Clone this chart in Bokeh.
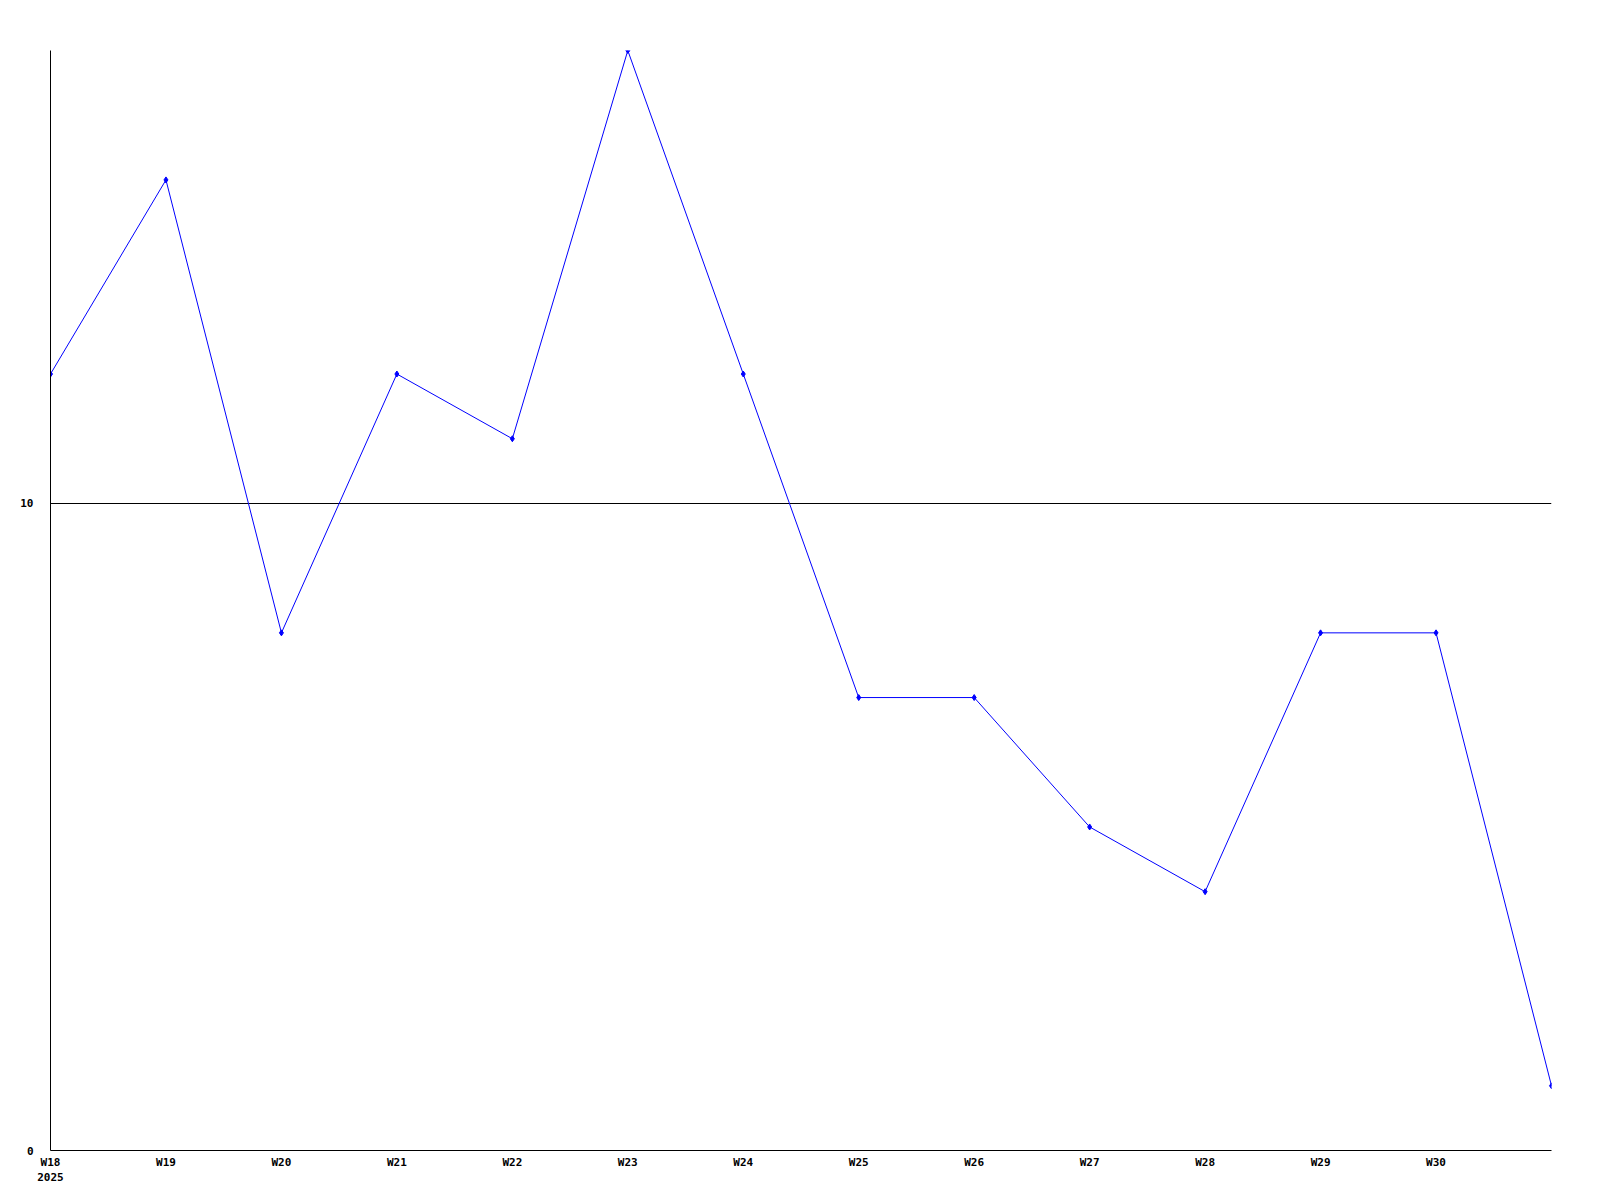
from bokeh.plotting import figure
from bokeh.models import FixedTicker, Range1d
from bokeh.embed import file_html
from bokeh.resources import INLINE

weeks = ["W18", "W19", "W20", "W21", "W22", "W23", "W24", "W25", "W26", "W27", "W28", "W29", "W30", ""]
values = [12, 15, 8, 12, 11, 17, 12, 7, 7, 5, 4, 8, 8, 1]
year_label = "2025"
y_ticks = [0, 10]

xs = list(range(len(values)))

p = figure(width=1600, height=1200, output_backend="svg", toolbar_location=None,
           x_range=Range1d(0, len(values) - 1), y_range=Range1d(0, 17),
           min_border_left=50, min_border_right=49, min_border_top=50, min_border_bottom=50)
p.outline_line_color = None
p.background_fill_color = "white"

p.line(xs, values, line_color="#0000ff", line_width=1)
p.scatter(xs, values, marker="diamond", size=6, fill_color="#0000ff", line_color="#0000ff")

font = "DejaVu Sans Mono"
for ax in (p.xaxis[0], p.yaxis[0]):
    ax.axis_line_color = "black"
    ax.axis_line_width = 1
    ax.major_tick_out = 0
    ax.major_tick_in = 0
    ax.minor_tick_out = 0
    ax.minor_tick_in = 0
    ax.major_label_text_font = font
    ax.major_label_text_font_style = "bold"
    ax.major_label_text_font_size = "11px"
    ax.major_label_text_color = "black"

labels = {i: w for i, w in enumerate(weeks) if w}
labels[0] = weeks[0] + "\n" + year_label
p.xaxis.ticker = FixedTicker(ticks=xs[:-1])
p.xaxis.major_label_overrides = labels
p.xaxis.major_label_standoff = 5
p.yaxis.ticker = FixedTicker(ticks=y_ticks)
p.yaxis.major_label_standoff = 17

p.xgrid.grid_line_color = None
p.ygrid.ticker = FixedTicker(ticks=y_ticks)
p.ygrid.grid_line_color = "black"
p.ygrid.grid_line_alpha = 1.0
p.ygrid.grid_line_width = 1

open("out.html", "w").write(file_html(p, INLINE))
